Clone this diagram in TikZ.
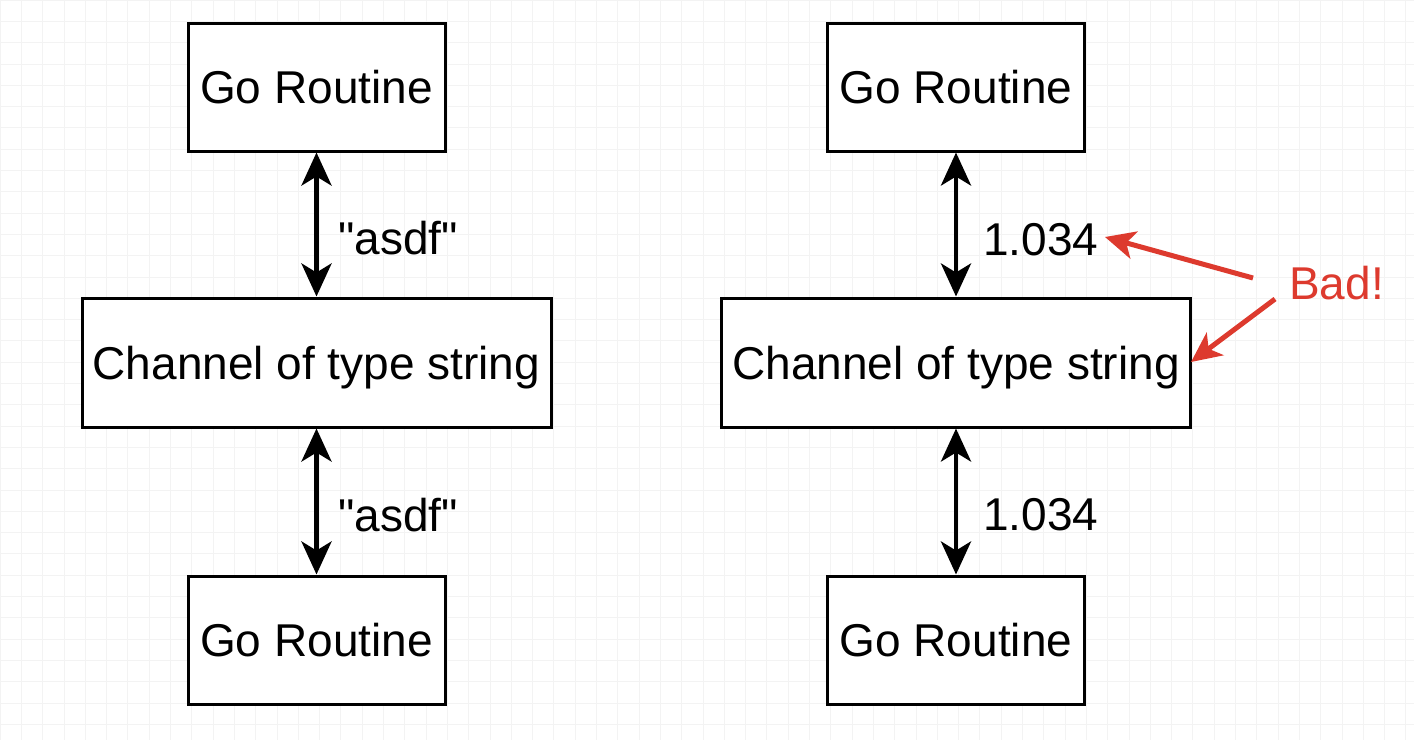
\documentclass[tikz,border=0pt]{standalone}
\usepackage{fontspec}
\newfontfamily\lsans{Liberation Sans}
\usetikzlibrary{arrows.meta}
\definecolor{badred}{RGB}{221,58,46}
\definecolor{gridc}{RGB}{243,243,243}
\tikzset{
  box/.style={draw=black, line width=3pt, fill=white, inner sep=0pt, font=\lsans\fontsize{46}{55}\selectfont},
  gobox/.style={box, minimum width=257pt, minimum height=128pt},
  chbox/.style={box, minimum width=469pt, minimum height=129pt, text depth=0pt},
  dbl/.style={line width=4.5pt, {Stealth[length=33pt,width=30pt,inset=9pt]}-{Stealth[length=33pt,width=30pt,inset=9pt]}},
  lbl/.style={anchor=west, inner sep=0pt, font=\lsans\fontsize{46}{55}\selectfont},
  redarrow/.style={draw=badred, line width=5pt, -{Stealth[length=30pt,width=28pt,inset=8pt]}},
}
\begin{document}
\begin{tikzpicture}[x=1pt,y=-1pt]
\useasboundingbox (0,0) rectangle (1414,740);
\fill[white] (0,0) rectangle (1414,740);
\draw[gridc, line width=0.8pt] (0,0) grid[xstep=21.3pt,ystep=21.3pt] (1414,740);
% left column
\node[gobox] (g1) at (316.5,87) {Go Routine};
\node[chbox] (c1) at (316.5,362.5) {Channel of type string};
\node[gobox] (g2) at (316.5,640) {Go Routine};
\draw[dbl] (g1.south) -- (c1.north);
\draw[dbl] (c1.south) -- (g2.north);
\node[lbl] (l1) at (338,238) {"asdf"};
\node[lbl] (l2) at (338,515) {"asdf"};
% right column
\node[gobox] (g3) at (956,87) {Go Routine};
\node[chbox] (c2) at (956,362.5) {Channel of type string};
\node[gobox] (g4) at (956,640) {Go Routine};
\draw[dbl] (g3.south) -- (c2.north);
\draw[dbl] (c2.south) -- (g4.north);
\node[lbl] (l3) at (983,240) {1.034};
\node[lbl] (l4) at (983,515) {1.034};
% Bad!
\node[lbl, text=badred] (bad) at (1289,283) {Bad!};
\coordinate (r1) at (1253,278);
\coordinate (r2) at (1275,299);
\coordinate (t1) at (1105,237);
\coordinate (t2) at (1191,362);
\draw[redarrow] (r1) -- (t1);
\draw[redarrow] (r2) -- (t2);
\end{tikzpicture}
\end{document}
